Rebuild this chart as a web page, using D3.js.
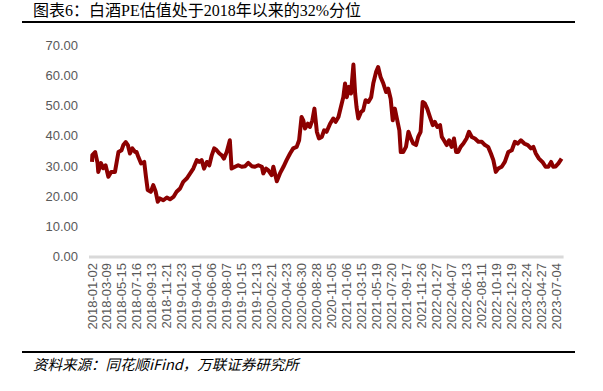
<!DOCTYPE html>
<html>
<head>
<meta charset="utf-8">
<script src="https://cdn.jsdelivr.net/npm/d3@7"></script>
<style>
  body { margin: 0; background: #fff; }
  svg { display: block; }
</style>
</head>
<body>
<div id="container"></div>
<script>
// Category labels shown on the x axis (every 43rd trading day)
const tickLabels = [
  "2018-01-02", "2018-03-09", "2018-05-15", "2018-07-16", "2018-09-13", "2018-11-21",
  "2019-01-23", "2019-04-01", "2019-06-06", "2019-08-07", "2019-10-15", "2019-12-13",
  "2020-02-21", "2020-04-23", "2020-06-30", "2020-08-28", "2020-11-05", "2021-01-06",
  "2021-03-15", "2021-05-19", "2021-07-20", "2021-09-17", "2021-11-26", "2022-01-27",
  "2022-04-07", "2022-06-13", "2022-08-11", "2022-10-19", "2022-12-19", "2023-02-24",
  "2023-04-27", "2023-07-04"
];
const tickStep = 43;

// trading-day index of each sample
const days = [
  0, 1, 9, 16, 18, 26, 32, 39, 47, 55, 66, 71, 76, 85, 90, 97, 103, 109, 116, 124,
  128, 133, 141, 150, 155, 160, 169, 176, 183, 189, 195, 205, 215, 224, 234, 243, 253, 262, 272, 282,
  291, 301, 308, 315, 322, 330, 337, 344, 351, 358, 366, 373, 379, 387, 396, 401, 411, 420, 430, 440,
  449, 459, 468, 478, 488, 492, 500, 506, 516, 521, 531, 540, 550, 559, 569, 578, 588, 595, 602, 607,
  612, 620, 626, 633, 639, 646, 652, 660, 667, 674, 684, 693, 700, 708, 715, 722, 727, 732, 738, 744,
  751, 756, 760, 765, 773, 779, 786, 794, 802, 808, 816, 822, 829, 837, 845, 851, 858, 864, 870, 877,
  883, 887, 894, 902, 909, 916, 923, 931, 937, 944, 950, 956, 963, 971, 979, 985, 992, 1000, 1005, 1011,
  1019, 1026, 1033, 1040, 1046, 1052, 1059, 1067, 1076, 1083, 1091, 1100, 1110, 1120, 1129, 1138, 1146, 1153, 1160, 1167,
  1177, 1186, 1196, 1206, 1215, 1223, 1232, 1242, 1252, 1261, 1268, 1275, 1284, 1294, 1303, 1311, 1319, 1325, 1332, 1340,
  1349
];

// Baijiu PE (TTM)
const peValues = [
  31.2, 33.5, 34.5, 30.8, 27.9, 30.8, 29.1, 30.1, 26.3, 27.9, 27.9, 31.2, 34.5, 35.1, 36.8, 37.8, 36.8, 34.0, 35.7, 34.5,
  34.5, 32.9, 30.7, 31.2, 26.3, 21.9, 21.3, 23.5, 21.3, 18.0, 19.1, 18.5, 19.4, 18.8, 19.6, 21.3, 22.4, 24.6, 25.7, 27.4,
  29.0, 31.8, 31.2, 31.8, 29.0, 31.2, 30.1, 33.4, 35.7, 35.1, 34.0, 33.4, 32.3, 34.5, 38.4, 29.0, 29.6, 30.1, 29.6, 29.8,
  30.9, 29.8, 29.6, 30.1, 29.6, 27.4, 29.0, 28.5, 26.8, 29.6, 24.8, 27.4, 29.6, 31.8, 34.0, 35.7, 36.2, 38.4, 46.1, 45.0,
  42.3, 43.9, 42.8, 45.0, 48.9, 41.2, 39.0, 39.5, 41.7, 41.2, 43.9, 45.6, 44.5, 46.1, 49.4, 52.7, 57.2, 52.7, 56.1, 53.9,
  63.5, 53.9, 49.4, 45.6, 47.8, 48.3, 51.7, 51.1, 52.7, 57.2, 61.0, 62.7, 59.4, 57.2, 54.4, 55.5, 52.2, 45.0, 48.9, 45.0,
  41.7, 34.5, 34.5, 36.2, 41.2, 39.0, 37.3, 36.8, 39.5, 41.2, 51.1, 50.6, 48.9, 46.1, 43.4, 44.5, 42.8, 43.4, 39.5, 38.4,
  36.8, 38.4, 36.2, 39.0, 34.5, 34.5, 36.2, 37.3, 39.0, 41.2, 39.5, 39.0, 37.9, 37.9, 36.8, 36.2, 34.0, 31.8, 27.9, 29.0,
  29.6, 31.2, 34.5, 35.1, 37.9, 37.3, 38.4, 37.3, 36.8, 35.7, 36.2, 34.0, 32.3, 31.2, 29.6, 29.6, 31.2, 29.6, 29.7, 30.7,
  32.3
];

const yTicks = [0, 10, 20, 30, 40, 50, 60, 70];

const titleText = "图表6：白酒PE估值处于2018年以来的32%分位";
const sourceText = "资料来源：同花顺iFind，万联证券研究所";

const width = 603;
const height = 391;
const margin = { top: 45, right: 47, bottom: 135, left: 92 };

const svg = d3.select("#container").append("svg")
  .attr("width", width)
  .attr("height", height);

// Title and rules
svg.append("text")
  .attr("x", 33)
  .attr("y", 16)
  .attr("font-family", "'Liberation Serif', 'Noto Sans CJK SC', serif")
  .attr("font-size", 16)
  .attr("fill", "#000")
  .text(titleText);

svg.append("line")
  .attr("x1", 22).attr("x2", 575)
  .attr("y1", 22).attr("y2", 22)
  .attr("stroke", "#000").attr("stroke-width", 2);

svg.append("line")
  .attr("x1", 22).attr("x2", 575)
  .attr("y1", 352).attr("y2", 352)
  .attr("stroke", "#000").attr("stroke-width", 2);

svg.append("text")
  .attr("x", 33)
  .attr("y", 370)
  .attr("font-family", "'Noto Sans CJK SC', sans-serif")
  .attr("font-size", 14.5)
  .attr("font-style", "italic")
  .attr("fill", "#000")
  .text(sourceText);

// Scales
const x = d3.scaleLinear()
  .domain([0, (tickLabels.length - 1) * tickStep])
  .range([margin.left, width - margin.right]);

const y = d3.scaleLinear()
  .domain([0, 70])
  .range([256, 45]);

// Y axis labels (no axis line)
const yAxis = svg.append("g")
  .attr("transform", `translate(${margin.left - 14},0)`)
  .call(d3.axisLeft(y).tickValues(yTicks).tickFormat(d3.format(".2f")).tickSize(0).tickPadding(0));
yAxis.select(".domain").remove();
yAxis.selectAll("text")
  .attr("font-family", "'Liberation Sans', Arial, sans-serif")
  .attr("font-size", 13)
  .attr("fill", "#595959")
  .attr("dy", "0.35em");

// X axis line
svg.append("line")
  .attr("x1", x(0) - 3).attr("x2", x(days[days.length - 1]) + 2)
  .attr("y1", y(0) + 1).attr("y2", y(0) + 1)
  .attr("stroke", "#d9d9d9").attr("stroke-width", 3);

// X tick labels, rotated
svg.append("g")
  .selectAll("text")
  .data(tickLabels)
  .join("text")
  .attr("transform", (d, i) => `translate(${x(i * tickStep) + 4.5},${y(0) + 7}) rotate(-90)`)
  .attr("text-anchor", "end")
  .attr("font-family", "'Liberation Sans', Arial, sans-serif")
  .attr("font-size", 13)
  .attr("fill", "#595959")
  .text(d => d);

// PE line
const points = days.map((d, i) => ({ day: d, value: peValues[i] }));
const line = d3.line()
  .x(d => x(d.day))
  .y(d => y(d.value));

svg.append("path")
  .datum(points)
  .attr("fill", "none")
  .attr("stroke", "#8c0000")
  .attr("stroke-width", 4)
  .attr("stroke-linejoin", "round")
  .attr("d", line);
</script>
</body>
</html>
